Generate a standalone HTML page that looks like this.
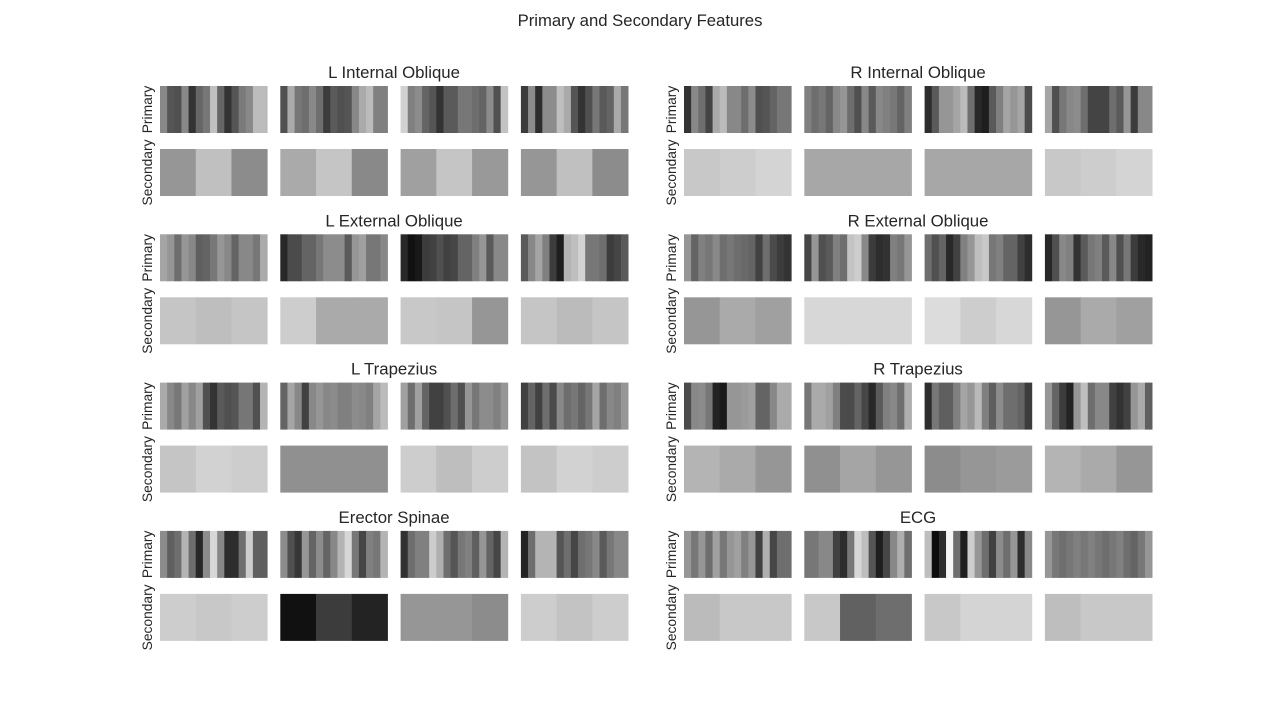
<!DOCTYPE html>
<html><head><meta charset="utf-8"><style>
body{margin:0;background:#fff;}
svg{display:block;font-family:"Liberation Sans",sans-serif;}
</style></head><body>
<svg id="c" width="1280" height="720">
<text x="640" y="26" text-anchor="middle" font-size="16.7" fill="#262626">Primary and Secondary Features</text>
</svg>
<script>
const muscles=["L Internal Oblique","R Internal Oblique","L External Oblique","R External Oblique","L Trapezius","R Trapezius","Erector Spinae","ECG"];
const primaryLIO=[[136,85,80,136,51,102,119,192,102,51,85,122,136,187,187],[80,170,119,110,136,110,60,90,80,85,136,170,187,128,128],[210,128,140,100,85,51,90,90,119,119,110,100,140,80,195],[60,140,45,140,140,190,170,85,51,80,119,90,100,170,119]];
const primaryRIO=[[51,136,110,68,170,187,136,136,110,140,80,85,100,119,119],[128,110,119,100,136,150,110,80,136,90,136,128,119,100,128],[45,90,150,150,165,187,110,40,30,90,128,165,150,165,75],[165,80,119,136,140,110,68,68,68,110,90,150,60,136,136]];
const primaryLEO=[[165,150,110,150,136,95,100,120,150,136,100,136,136,119,170],[40,75,75,100,100,119,140,140,140,90,150,160,119,119,136],[40,17,25,60,65,80,65,70,100,100,128,150,90,136,136],[90,136,165,128,60,30,180,190,210,119,119,110,60,70,90]];
const primaryREO=[[150,100,128,119,136,110,119,110,105,100,65,110,75,60,51],[70,150,80,90,128,110,195,205,136,60,45,50,128,119,150],[110,80,100,40,65,128,150,190,200,119,128,100,100,65,45],[40,80,136,128,51,90,119,128,90,136,80,119,60,40,35]];
const primaryLT=[[170,136,119,160,136,160,80,51,90,80,85,119,119,80,180],[100,165,136,65,136,150,136,140,128,128,140,136,128,165,187],[160,110,160,100,65,65,80,110,80,150,119,140,140,128,150],[65,100,65,110,75,136,110,119,100,119,165,110,136,128,150]];
const primaryRT=[[75,136,140,119,35,25,150,150,155,160,100,100,136,170,170],[119,170,170,160,128,75,75,100,70,40,90,128,136,110,175],[45,119,95,95,128,165,150,185,128,95,140,110,110,100,60],[150,100,60,35,150,190,110,136,136,65,50,65,150,170,95]];
const primaryES=[[140,95,110,180,110,40,140,215,136,45,45,110,205,95,95],[140,80,55,150,100,140,100,136,180,215,119,70,128,119,180],[50,110,128,128,205,175,110,85,119,128,95,150,100,70,180],[35,110,180,180,180,85,110,70,110,119,136,90,119,136,136]];
const primaryECG=[[150,119,150,110,160,119,150,160,128,150,65,175,70,110,110],[119,119,136,136,65,45,119,215,190,85,30,70,136,175,110],[190,12,45,245,110,30,205,150,110,65,140,110,150,45,136],[150,119,110,119,128,119,128,119,110,119,128,110,100,119,150]];
const secondaryLIO=[[150,192,140],[170,197,137],[160,197,153],[150,192,140]];
const secondaryRIO=[[200,205,212],[167,167,167],[167,167,167],[200,205,212]];
const secondaryLEO=[[197,190,197],[205,170,170],[200,197,150],[197,187,197]];
const secondaryREO=[[150,170,160],[215,215,215],[220,205,215],[150,170,160]];
const secondaryLT=[[197,210,205],[144,144,144],[205,190,205],[195,210,205]];
const secondaryRT=[[180,170,150],[144,165,150],[140,150,155],[180,170,150]];
const secondaryES=[[205,200,205],[17,60,35],[150,150,140],[205,195,205]];
const secondaryECG=[[187,200,200],[200,97,110],[200,212,212],[190,200,200]];
const primaryAll=[primaryLIO,primaryRIO,primaryLEO,primaryREO,primaryLT,primaryRT,primaryES,primaryECG];
const secondaryAll=[secondaryLIO,secondaryRIO,secondaryLEO,secondaryREO,secondaryLT,secondaryRT,secondaryES,secondaryECG];

const svg=document.getElementById('c');
const NS='http://www.w3.org/2000/svg';
const groupX=[160,684], panelW=107.2, panelGap=120.3, rowTop=86, rowStep=148.3, cellH=47, secOff=63;
function gray(v){return 'rgb('+v+','+v+','+v+')';}
function mk(t,a){const e=document.createElementNS(NS,t);for(const k in a)e.setAttribute(k,a[k]);svg.appendChild(e);return e;}
muscles.forEach((m,mi)=>{
  const gx=groupX[mi%2], top=rowTop+Math.floor(mi/2)*rowStep;
  const t=mk('text',{x:gx+(3*panelGap+panelW)/2,y:top-8,'text-anchor':'middle','font-size':'16.8',fill:'#262626'});
  t.textContent=m;
  
  
  const yl=[['Primary',top+cellH/2],['Secondary',top+secOff+cellH/2]];
  yl.forEach(([s,cy])=>{
    const l=mk('text',{x:0,y:0,transform:'translate('+(gx-8)+','+cy+') rotate(-90)','text-anchor':'middle','font-size':'13.8',fill:'#262626'});
    l.textContent=s;
    
    
  });
  for(let p=0;p<4;p++){
    const px=gx+p*panelGap;
    const pv=primaryAll[mi][p], w=panelW/pv.length;
    pv.forEach((v,i)=>{
      const r=mk('rect',{x:px+i*w,y:top,width:w+0.4,height:cellH,fill:gray(v)});
      
      
    });
    const sv=secondaryAll[mi][p], sw=panelW/sv.length;
    sv.forEach((v,i)=>{
      const r=mk('rect',{x:px+i*sw,y:top+secOff,width:sw+0.4,height:cellH,fill:gray(v)});
      
      
    });
  }
});
</script>
</body></html>
